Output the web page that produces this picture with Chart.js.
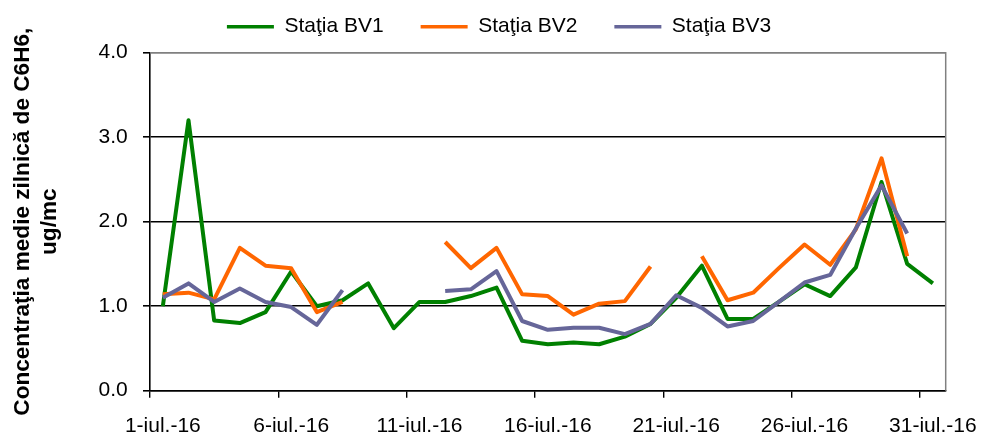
<!DOCTYPE html>
<html>
<head>
<meta charset="utf-8">
<script src="https://cdn.jsdelivr.net/npm/chart.js@4"></script>
<style>
html,body{margin:0;padding:0;background:#fff;}
#wrap{width:982px;height:435px;position:relative;}
</style>
</head>
<body>
<div id="wrap"><canvas id="c"></canvas></div>
<script>
// ---- data ----
const categories = [
  '1-iul.-16','2-iul.-16','3-iul.-16','4-iul.-16','5-iul.-16','6-iul.-16','7-iul.-16','8-iul.-16',
  '9-iul.-16','10-iul.-16','11-iul.-16','12-iul.-16','13-iul.-16','14-iul.-16','15-iul.-16','16-iul.-16',
  '17-iul.-16','18-iul.-16','19-iul.-16','20-iul.-16','21-iul.-16','22-iul.-16','23-iul.-16','24-iul.-16',
  '25-iul.-16','26-iul.-16','27-iul.-16','28-iul.-16','29-iul.-16','30-iul.-16','31-iul.-16'
];
const seriesNames = ['Staţia BV1', 'Staţia BV2', 'Staţia BV3'];
const bv1 = [1.00, 3.20, 0.83, 0.80, 0.93, 1.41, 1.00, 1.07, 1.27, 0.74, 1.05, 1.05, 1.12, 1.22, 0.59, 0.55,
             0.57, 0.55, 0.64, 0.79, 1.10, 1.48, 0.85, 0.85, 1.05, 1.26, 1.12, 1.46, 2.47, 1.50, 1.27];
const bv2 = [1.14, 1.16, 1.08, 1.69, 1.48, 1.45, 0.93, 1.05, null, null, null, 1.76, 1.45, 1.69, 1.14, 1.12,
             0.90, 1.03, 1.06, 1.47, null, 1.59, 1.07, 1.16, 1.45, 1.73, 1.49, 1.91, 2.75, 1.59, null];
const bv3 = [1.10, 1.27, 1.05, 1.21, 1.05, 0.99, 0.78, 1.19, null, null, null, 1.18, 1.20, 1.415, 0.825, 0.72,
             0.745, 0.745, 0.67, 0.79, 1.13, 0.98, 0.76, 0.825, 1.05, 1.28, 1.37, 1.92, 2.43, 1.86, null];
const yMin = 0, yMax = 4, yStep = 1;
const xLabelEvery = 5;
const yTitle = ['Concentraţia medie zilnică de C6H6,', 'ug/mc'];

// ---- styling / layout ----
const colors = ['#008000', '#FF6600', '#666699'];
const FONT = "'Liberation Sans', Arial, sans-serif";
Chart.defaults.font.family = FONT;
Chart.defaults.color = '#000';

const LEGEND_PAD = 37;
const PAD_TOP = 26.7 - 10.5 - LEGEND_PAD;
const PLOT_TOP = 52.7;
const PAD_LEFT = 16;

const legendFix = {
  id: 'legendFix',
  beforeUpdate(chart) {
    const lg = chart.legend;
    if (lg && !lg.__fixed) {
      const orig = lg.fit;
      lg.fit = function () { orig.call(this); this.height = PLOT_TOP - PAD_TOP; };
      lg.__fixed = true;
    }
  }
};

const frame = {
  id: 'frame',
  beforeDatasetsDraw(chart) {
    const {ctx, chartArea: a} = chart;
    ctx.save();
    ctx.strokeStyle = '#808080';
    ctx.lineWidth = 1.5;
    ctx.beginPath();
    ctx.moveTo(a.left, a.top);
    ctx.lineTo(a.right, a.top);
    ctx.lineTo(a.right, a.bottom);
    ctx.stroke();
    ctx.restore();
  }
};

const seriesData = [bv1, bv2, bv3];
const datasets = seriesData.map((d, i) => ({
  label: seriesNames[i],
  data: d,
  borderColor: colors[i],
  backgroundColor: colors[i],
  borderWidth: 4,
  pointRadius: 0,
  pointHoverRadius: 0,
  tension: 0,
  spanGaps: false,
  borderJoinStyle: 'round',
  borderCapStyle: 'butt',
  order: 3 - i
}));

new Chart(document.getElementById('c'), {
  type: 'line',
  data: { labels: categories, datasets },
  plugins: [legendFix, frame],
  options: {
    responsive: true,
    maintainAspectRatio: false,
    animation: false,
    devicePixelRatio: 1,
    layout: { padding: { top: PAD_TOP, left: PAD_LEFT, right: 0, bottom: 0 } },
    plugins: {
      tooltip: { enabled: false },
      legend: {
        position: 'top',
        align: 'center',
        labels: {
          font: { size: 21 },
          color: '#000',
          boxWidth: 47,
          boxHeight: 3.5,
          padding: LEGEND_PAD,
          generateLabels(chart) {
            const items = Chart.defaults.plugins.legend.labels.generateLabels(chart);
            items.sort((a, b) => a.datasetIndex - b.datasetIndex);
            items.forEach(it => { it.fillStyle = it.strokeStyle; it.lineWidth = 0; });
            return items;
          }
        }
      }
    },
    scales: {
      x: {
        type: 'category',
        offset: true,
        grid: {
          offset: true,
          drawOnChartArea: false,
          drawTicks: true,
          tickLength: 7,
          lineWidth: 1.4,
          color: c => (c.index !== undefined && c.index % xLabelEvery === 0) ? '#000' : 'rgba(0,0,0,0)'
        },
        border: { display: true, color: '#000', width: 1.6 },
        ticks: {
          autoSkip: false,
          maxRotation: 0,
          minRotation: 0,
          padding: 15.5,
          font: { size: 21 },
          color: '#000',
          callback(v, i) { return i % xLabelEvery === 0 ? this.getLabelForValue(v) : ''; }
        },
        afterFit(s) { s.height = 44.3; s.paddingLeft = 0; s.paddingRight = 36.3; }
      },
      y: {
        min: yMin,
        max: yMax,
        ticks: {
          stepSize: yStep,
          padding: 15.3,
          font: { size: 21 },
          color: '#000',
          callback: v => Number(v).toFixed(1)
        },
        grid: {
          color: c => (c.tick && c.tick.value === yMax) ? '#808080' : '#000',
          lineWidth: 1.6,
          tickLength: 7,
          tickColor: '#000'
        },
        border: { display: true, color: '#000', width: 1.6 },
        title: {
          display: true,
          text: yTitle,
          font: { size: 22.6, weight: 'bold' },
          color: '#000',
          padding: { top: -7.06, bottom: 0 }
        },
        afterFit(s) { s.width = 150 - PAD_LEFT; }
      }
    }
  }
});
</script>
</body>
</html>
